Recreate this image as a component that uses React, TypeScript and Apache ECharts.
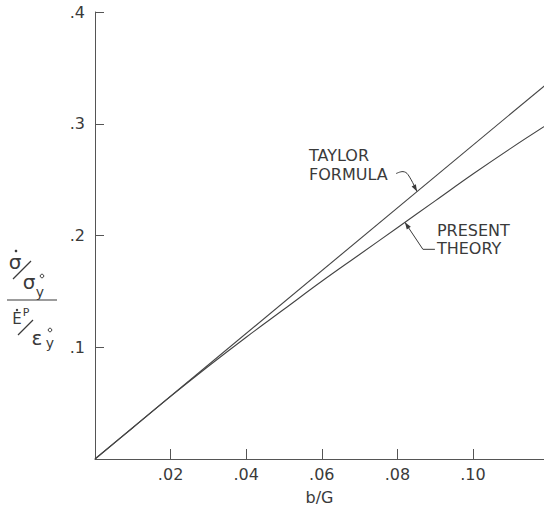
import React, { useEffect, useRef } from "react";
import * as echarts from "echarts";

const xTickStep = 0.02;
const yTickStep = 0.1;
const xMax = 0.1188;
const yMax = 0.4;

const taylorX = [0, 0.12];
const taylorY = [0, 0.337];

const presentX = [0, 0.01, 0.02, 0.03, 0.04, 0.05, 0.06, 0.07, 0.08, 0.09, 0.1, 0.11, 0.12];
const presentY = [0, 0.028, 0.056, 0.083, 0.109, 0.134, 0.159, 0.183, 0.207, 0.231, 0.255, 0.278, 0.3];

const taylorLabel = ["TAYLOR", "FORMULA"];
const presentLabel = ["PRESENT", "THEORY"];
const taylorArrowX = 0.0852;
const presentArrowX = 0.082;

const FONT = "'DejaVu Sans', 'Liberation Sans', sans-serif";
const INK = "#3a3a3a";

function interp(xs: number[], ys: number[], x: number) {
  for (let i = 0; i < xs.length - 1; i++) {
    if (x >= xs[i] && x <= xs[i + 1]) {
      const t = (x - xs[i]) / (xs[i + 1] - xs[i]);
      return ys[i] + t * (ys[i + 1] - ys[i]);
    }
  }
  return ys[ys.length - 1];
}

function arrowHead(tip: number[], from: number[], len = 7, half = 2.4) {
  const dx = tip[0] - from[0];
  const dy = tip[1] - from[1];
  const d = Math.hypot(dx, dy) || 1;
  const ux = dx / d, uy = dy / d;
  const bx = tip[0] - ux * len, by = tip[1] - uy * len;
  const px = -uy, py = ux;
  return {
    type: "polygon",
    shape: { points: [tip, [bx + px * half, by + py * half], [bx - px * half, by - py * half]] },
    style: { fill: INK },
  };
}

function txt(text: string, x: number, y: number, size: number, align = "left") {
  return {
    type: "text",
    x,
    y,
    style: { text, fill: INK, fontSize: size, fontFamily: FONT, align, verticalAlign: "middle" },
  };
}

function fmt(v: number, d: number) {
  if (v === 0) return "";
  return v.toFixed(d).replace(/^0/, "");
}

export default function App() {
  const ref = useRef<HTMLDivElement>(null);
  useEffect(() => {
    if (!ref.current) return;
    const chart = echarts.init(ref.current, undefined, { renderer: "svg" });
    const lineStyle = { color: "#444", width: 1.1 };
    chart.setOption({
      animation: false,
      backgroundColor: "#fff",
      grid: { left: 95, right: 0, top: 12, bottom: 46, containLabel: false },
      xAxis: {
        type: "value",
        min: 0,
        max: xMax,
        interval: xTickStep,
        name: "b/G",
        nameLocation: "middle",
        nameGap: 30,
        nameTextStyle: { color: INK, fontSize: 16, fontFamily: FONT },
        axisLine: { lineStyle: { color: "#555", width: 1 } },
        axisTick: { inside: true, length: 10, lineStyle: { color: "#555" } },
        axisLabel: {
          color: INK,
          fontSize: 16,
          fontFamily: FONT,
          margin: 7,
          showMinLabel: false,
          showMaxLabel: false,
          formatter: (v: number) => fmt(v, 2),
        },
        splitLine: { show: false },
      },
      yAxis: {
        type: "value",
        min: 0,
        max: yMax,
        interval: yTickStep,
        axisLine: { show: true, lineStyle: { color: "#555", width: 1 } },
        axisTick: { show: true, inside: true, length: 9, lineStyle: { color: "#555" } },
        axisLabel: {
          color: INK,
          fontSize: 16,
          fontFamily: FONT,
          margin: 10,
          showMinLabel: false,
          formatter: (v: number) => fmt(v, 1),
        },
        splitLine: { show: false },
      },
      series: [
        {
          name: "Taylor formula",
          type: "line",
          data: taylorX.map((x, i) => [x, taylorY[i]]),
          showSymbol: false,
          lineStyle,
          clip: true,
        },
        {
          name: "Present theory",
          type: "line",
          data: presentX.map((x, i) => [x, presentY[i]]),
          showSymbol: false,
          smooth: 0.4,
          lineStyle,
          clip: true,
        },
      ],
    });

    const tp = chart.convertToPixel({ gridIndex: 0 }, [taylorArrowX, interp(taylorX, taylorY, taylorArrowX)]) as number[];
    const pp = chart.convertToPixel({ gridIndex: 0 }, [presentArrowX, interp(presentX, presentY, presentArrowX)]) as number[];
    const off = (p: number[], dx: number, dy: number) => [p[0] + dx, p[1] + dy];

    const tLead = [off(tp, -21, -18), off(tp, -14, -20), off(tp, -9, -17), tp];
    const pLead = [pp, off(pp, 18, 27), off(pp, 30, 27)];
    const thin = { stroke: INK, lineWidth: 1, fill: "none" };

    chart.setOption({
      graphic: [
        txt(taylorLabel[0], tp[0] - 108, tp[1] - 36, 16),
        txt(taylorLabel[1], tp[0] - 108, tp[1] - 17, 16),
        { type: "polyline", shape: { points: tLead, smooth: 0.4 }, style: thin },
        arrowHead(tp, tLead[2]),
        txt(presentLabel[0], pp[0] + 32, pp[1] + 8, 16),
        txt(presentLabel[1], pp[0] + 32, pp[1] + 26, 16),
        { type: "polyline", shape: { points: pLead }, style: thin },
        arrowHead(pp, pLead[1]),
        // y-axis title: (σ̇ / σy°) over (Ėp / εy°)
        txt("σ", 15, 262, 20, "center"),
        { type: "circle", shape: { cx: 16, cy: 251, r: 1.3 }, style: { fill: INK } },
        { type: "line", shape: { x1: 13, y1: 279, x2: 31, y2: 261 }, style: { stroke: INK, lineWidth: 1.2 } },
        txt("σ", 29, 282, 20, "center"),
        { type: "circle", shape: { cx: 42, cy: 276, r: 1.8 }, style: { stroke: INK, fill: "none", lineWidth: 1 } },
        txt("y", 40, 292, 14, "center"),
        { type: "line", shape: { x1: 7, y1: 300, x2: 57, y2: 300 }, style: { stroke: INK, lineWidth: 1.2 } },
        txt("E", 17, 319, 15, "center"),
        { type: "circle", shape: { cx: 17, cy: 310, r: 1.2 }, style: { fill: INK } },
        txt("P", 26, 312, 11, "center"),
        { type: "line", shape: { x1: 18, y1: 335, x2: 33, y2: 320 }, style: { stroke: INK, lineWidth: 1.2 } },
        txt("ε", 37, 338, 20, "center"),
        { type: "circle", shape: { cx: 50, cy: 330, r: 1.8 }, style: { stroke: INK, fill: "none", lineWidth: 1 } },
        txt("y", 50, 343, 14, "center"),
      ],
    });

    return () => chart.dispose();
  }, []);
  return (
    <div
      ref={ref}
      style={{ position: "fixed", left: 0, top: 0, width: 544, height: 510, background: "#fff" }}
    />
  );
}
